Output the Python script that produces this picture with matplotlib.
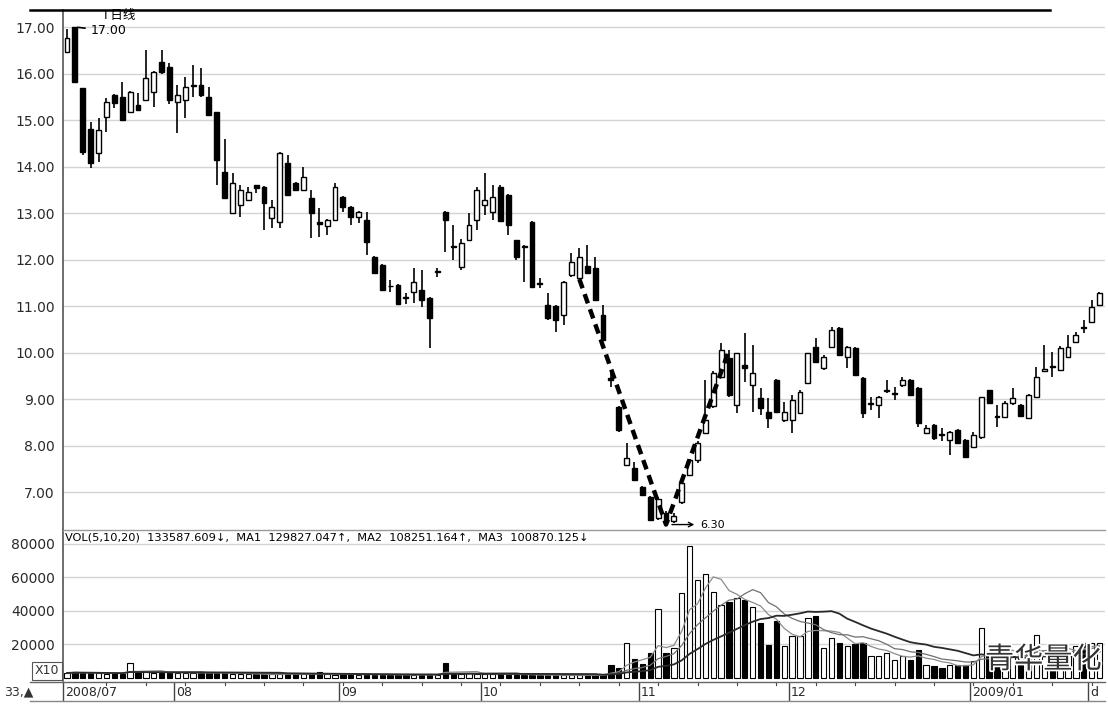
import matplotlib
matplotlib.use('Agg')
import matplotlib.pyplot as plt
import numpy as np
import pandas as pd
from matplotlib.patches import Rectangle
from matplotlib.lines import Line2D
from matplotlib.transforms import blended_transform_factory
import matplotlib.patheffects as pe

# ---------------- data ----------------
opens = [16.46, 17.00, 15.68, 14.80, 14.30, 15.07, 15.54, 15.50, 15.17, 15.32,
         15.43, 15.60, 16.25, 16.14, 15.39, 15.43, 15.73, 15.75, 15.50, 15.17,
         13.88, 13.00, 13.17, 13.28, 13.60, 13.56, 12.89, 12.81, 14.07, 13.65,
         13.50, 13.32, 12.80, 12.72, 12.85, 13.34, 13.13, 12.91, 12.85, 12.05,
         11.88, 11.44, 11.45, 11.20, 11.30, 11.34, 11.17, 11.74, 13.02, 12.28,
         11.84, 12.42, 12.85, 13.17, 13.02, 13.55, 13.39, 12.42, 12.28, 12.81,
         11.50, 11.02, 11.00, 10.81, 11.67, 11.60, 11.85, 11.82, 10.81, 9.45,
         8.83, 7.58, 7.52, 7.10, 6.89, 6.45, 6.55, 6.38, 6.79, 7.37,
         7.69, 8.27, 8.85, 9.47, 9.88, 8.87, 9.74, 9.30, 9.02, 8.72,
         9.41, 8.55, 8.55, 8.70, 9.34, 10.12, 9.67, 10.12, 10.53, 9.90,
         10.10, 9.45, 8.90, 8.87, 9.18, 9.10, 9.30, 9.41, 9.24, 8.27,
         8.44, 8.24, 8.12, 8.33, 8.12, 7.97, 8.18, 9.19, 8.64, 8.61,
         8.91, 8.87, 8.59, 9.04, 9.60, 9.70, 9.62, 9.90, 10.23, 10.54,
         10.66, 11.02]
highs = [16.95, 17.00, 15.68, 14.95, 15.05, 15.47, 15.56, 15.82, 15.62, 15.58,
         16.50, 16.05, 16.50, 16.22, 15.75, 15.93, 16.18, 16.11, 15.71, 15.17,
         14.60, 13.86, 13.60, 13.56, 13.60, 13.58, 13.28, 14.31, 14.25, 13.67,
         13.99, 13.50, 13.10, 12.87, 13.65, 13.36, 13.15, 13.05, 13.02, 12.07,
         11.90, 11.55, 11.47, 11.28, 11.82, 11.77, 11.20, 11.82, 13.04, 12.74,
         12.45, 13.00, 13.56, 13.86, 13.60, 13.60, 13.40, 12.43, 12.32, 12.82,
         11.60, 11.28, 11.02, 11.54, 12.14, 12.25, 12.31, 12.05, 11.02, 9.58,
         8.86, 8.05, 7.65, 7.12, 6.92, 6.90, 6.60, 6.55, 7.22, 7.72,
         8.10, 9.41, 9.60, 10.20, 10.05, 10.00, 10.42, 10.16, 9.24, 9.02,
         9.42, 8.94, 9.09, 9.20, 10.00, 10.31, 9.95, 10.55, 10.55, 10.15,
         10.12, 9.47, 9.04, 9.06, 9.41, 9.26, 9.47, 9.43, 9.25, 8.45,
         8.47, 8.38, 8.32, 8.36, 8.14, 8.30, 9.05, 9.20, 8.87, 8.95,
         9.24, 8.89, 9.10, 9.69, 10.16, 10.01, 10.15, 10.38, 10.45, 10.70,
         11.13, 11.30]
lows = [16.45, 15.80, 14.25, 13.97, 14.10, 14.74, 15.25, 15.00, 15.15, 15.20,
        15.40, 15.28, 16.00, 15.35, 14.72, 15.04, 15.50, 15.50, 15.08, 13.60,
        13.30, 12.98, 12.92, 13.25, 13.42, 12.63, 12.68, 12.68, 13.38, 13.48,
        13.48, 12.46, 12.48, 12.53, 12.83, 13.02, 12.74, 12.78, 12.10, 11.70,
        11.33, 11.30, 11.02, 11.04, 11.06, 10.98, 10.10, 11.62, 12.16, 11.99,
        11.77, 12.40, 12.63, 12.96, 12.85, 12.80, 12.53, 12.00, 11.52, 11.40,
        11.39, 10.70, 10.44, 10.59, 11.62, 11.58, 11.70, 11.10, 10.25, 9.26,
        8.30, 7.56, 7.24, 6.92, 6.38, 6.40, 6.30, 6.33, 6.75, 7.35,
        7.62, 8.25, 8.80, 9.45, 9.05, 8.70, 9.37, 8.72, 8.66, 8.38,
        8.70, 8.50, 8.27, 8.68, 9.32, 9.78, 9.63, 10.10, 9.93, 9.67,
        9.50, 8.59, 8.76, 8.59, 9.13, 8.98, 9.26, 9.07, 8.40, 8.25,
        8.12, 8.10, 7.80, 8.03, 7.73, 7.94, 8.15, 8.90, 8.40, 8.60,
        8.88, 8.62, 8.57, 9.02, 9.58, 9.47, 9.60, 9.88, 10.20, 10.42,
        10.64, 11.00]
closes = [16.76, 15.82, 14.32, 14.08, 14.78, 15.39, 15.37, 15.00, 15.60, 15.22,
          15.90, 16.03, 16.03, 15.43, 15.54, 15.71, 15.74, 15.54, 15.10, 14.14,
          13.32, 13.65, 13.50, 13.45, 13.54, 13.21, 13.13, 14.29, 13.39, 13.50,
          13.78, 13.00, 12.76, 12.85, 13.56, 13.13, 12.91, 13.02, 12.38, 11.71,
          11.34, 11.42, 11.04, 11.18, 11.52, 11.13, 10.74, 11.76, 12.86, 12.26,
          12.35, 12.74, 13.50, 13.28, 13.34, 12.82, 12.74, 12.05, 12.26, 11.41,
          11.48, 10.74, 10.70, 11.52, 11.95, 12.05, 11.72, 11.13, 10.27, 9.40,
          8.33, 7.73, 7.26, 6.94, 6.40, 6.85, 6.36, 6.48, 7.20, 7.69,
          8.05, 8.55, 9.55, 10.05, 9.08, 9.99, 9.66, 9.56, 8.81, 8.59,
          8.72, 8.72, 8.98, 9.15, 9.99, 9.80, 9.90, 10.48, 9.95, 10.12,
          9.52, 8.70, 8.92, 9.04, 9.20, 9.12, 9.40, 9.09, 8.48, 8.38,
          8.16, 8.22, 8.29, 8.05, 7.75, 8.23, 9.04, 8.91, 8.62, 8.91,
          9.02, 8.63, 9.09, 9.47, 9.64, 9.68, 10.10, 10.12, 10.38, 10.52,
          10.98, 11.28]
volumes = [3000, 3500, 3200, 3000, 2800, 2500, 2600, 2500, 9000, 3000,
           3500, 3000, 3200, 3500, 3000, 3200, 2800, 3000, 3300, 3200,
           3000, 2400, 2300, 2200, 2400, 2300, 2100, 2500, 2400, 2200,
           2300, 2400, 3500, 2200, 2000, 2100, 1900, 2000, 2200, 1800,
           2000, 1900, 2100, 1800, 2000, 1900, 2100, 1800, 9000, 2600,
           2400, 2800, 2500, 2200, 2400, 2300, 2000, 1800, 1900, 1700,
           1800, 1600, 1700, 1800, 1600, 1700, 1500, 1600, 1700, 7800,
           6000, 21000, 11300, 8400, 15000, 41000, 15000, 18000, 51000, 79000,
           58500, 62000, 51500, 43500, 45400, 47500, 46600, 42400, 33000, 19700,
           34000, 19000, 25000, 25000, 36000, 37000, 18000, 24000, 21000, 19000,
           20300, 21000, 13000, 13000, 15000, 10700, 13000, 10700, 16700, 8000,
           7000, 6000, 7500, 8000, 8000, 10000, 30000, 14000, 12000, 14000,
           13000, 12000, 15000, 25600, 16000, 14000, 18000, 15000, 19000, 21000,
           21000, 21000]
price_ticks = [7, 8, 9, 10, 11, 12, 13, 14, 15, 16, 17]
vol_ticks = [20000, 40000, 60000, 80000]
month_labels = ['2008/07', '08', '09', '10', '11', '12', '2009/01', 'd']
month_idx = [0, 14, 35, 53, 73, 92, 115, 130]
v_idx = [65, 76, 84]          # candles joined by the dashed "V"
ma_windows = [5, 10, 20]
header = ('VOL(5,10,20)  133587.609\u2193,  MA1  129827.047\u2191,  '
          'MA2  108251.164\u2191,  MA3  100870.125\u2193')

# ---------------- figure ----------------
W, H = 1108, 708
fig = plt.figure(figsize=(W / 100, H / 100), dpi=100)
fig.patch.set_facecolor('white')


def fx(px):
    return px / W


def fy(py):
    return 1 - py / H


ax_p = fig.add_axes([fx(63), fy(530), fx(1105) - fx(63), fy(10) - fy(530)])
ax_v = fig.add_axes([fx(63), fy(681), fx(1105) - fx(63), fy(530) - fy(681)])

n = len(opens)
idx = np.arange(n)
xlim = (-0.51, 131.7)
grid_c = '#d4d4d4'
txt_c = '#2a2a2a'

# ---- price panel ----
bw = 0.62
for i in range(n):
    o, h, l, c = opens[i], highs[i], lows[i], closes[i]
    ax_p.vlines(i, l, h, color='black', lw=1.2, zorder=2)
    up = c >= o
    bottom = min(o, c)
    hgt = max(abs(c - o), 0.02)
    ax_p.add_patch(Rectangle((i - bw / 2, bottom), bw, hgt,
                             facecolor='white' if up else 'black',
                             edgecolor='black', lw=1.0, zorder=3))

# dashed V
vx = [v_idx[0], v_idx[1], v_idx[2]]
vy = [lows[v_idx[0]], lows[v_idx[1]], highs[v_idx[2]]]
ax_p.plot(vx, vy, color='black', lw=3.2, ls=(0, (2.2, 1.4)), zorder=4,
          solid_capstyle='butt', dash_capstyle='butt')

ax_p.set_xlim(*xlim)
ax_p.set_ylim(6.183, 17.366)
ax_p.set_yticks(price_ticks)
ax_p.set_yticklabels([f'{t:.2f}' for t in price_ticks])
ax_p.grid(axis='y', color=grid_c, lw=1.0)
ax_p.set_axisbelow(True)
ax_p.set_xticks([])
ax_p.tick_params(axis='y', length=0, pad=6, labelsize=10, labelcolor=txt_c)
for s in ['top', 'right', 'bottom']:
    ax_p.spines[s].set_visible(False)
ax_p.spines['left'].set_color('#555555')
ax_p.spines['left'].set_linewidth(1.2)

# annotations on price panel
i_hi = int(np.argmax(highs))
ax_p.annotate('17.00', xy=(i_hi, highs[i_hi]), xytext=(i_hi + 2.0, highs[i_hi] - 0.08),
              fontsize=9, color='black', va='center', ha='left',
              arrowprops=dict(arrowstyle='-', color='black', lw=1.2))
i_lo = int(np.argmin(lows))
ax_p.annotate('6.30', xy=(i_lo + 0.4, lows[i_lo]), xytext=(i_lo + 4.3, lows[i_lo]),
              fontsize=8, color='black', va='center', ha='left',
              arrowprops=dict(arrowstyle='<-', color='black', lw=1.0))
fig.text(fx(104), fy(15), 'I 日线', fontsize=9, color='black', va='center', ha='left',
         family=['Noto Sans CJK SC', 'DejaVu Sans'])

# ---- volume panel ----
vcol = ['white' if closes[i] >= opens[i] else 'black' for i in range(n)]
ax_v.bar(idx, volumes, width=0.68, color=vcol, edgecolor='black', lw=0.8, zorder=3)
vs = pd.Series(volumes, dtype=float)
ma_styles = [('#8c8c8c', 0.9), ('#707070', 0.9), ('#2a2a2a', 1.3)]
for w, (col, lw) in zip(ma_windows, ma_styles):
    ax_v.plot(idx, vs.rolling(w, min_periods=1).mean(), color=col, lw=lw, zorder=4)

ax_v.set_xlim(*xlim)
ax_v.set_ylim(-1791, 88358)
ax_v.set_yticks(vol_ticks)
ax_v.set_yticklabels([str(t) for t in vol_ticks])
ax_v.grid(axis='y', color=grid_c, lw=1.0)
ax_v.set_axisbelow(True)
ax_v.set_xticks([])
ax_v.tick_params(axis='y', length=0, pad=6, labelsize=10, labelcolor=txt_c)
ax_v.spines['right'].set_visible(False)
ax_v.spines['top'].set_color('#9a9a9a')
ax_v.spines['top'].set_linewidth(1.0)
ax_v.spines['left'].set_color('#555555')
ax_v.spines['left'].set_linewidth(1.2)
ax_v.spines['bottom'].set_visible(False)

fig.text(fx(65), fy(538), header, fontsize=8.2, color='black', va='center', ha='left',
         family=['DejaVu Sans'])
fig.text(fx(47), fy(671), 'X10', fontsize=9, color='#333333', ha='center', va='center',
         bbox=dict(boxstyle='square,pad=0.2', fc='white', ec='#555555', lw=0.8))

# watermark
fig.text(fx(985), fy(660), '青华量化', fontsize=21, color='#333333', ha='left', va='center',
         family=['Noto Sans CJK SC', 'DejaVu Sans'],
         path_effects=[pe.withStroke(linewidth=2.5, foreground='white')])

# frame lines
fig.add_artist(Line2D([fx(30), fx(1050)], [fy(10), fy(10)], color='black', lw=1.8))
fig.add_artist(Line2D([fx(30), fx(1105)], [fy(682), fy(682)], color='#666666', lw=1.0))
fig.add_artist(Line2D([fx(30), fx(1105)], [fy(701), fy(701)], color='#888888', lw=1.0))

# month labels / dividers
bt = blended_transform_factory(ax_v.transData, fig.transFigure)
for lab, mi in zip(month_labels, month_idx):
    ax_v.add_artist(Line2D([mi - 0.45, mi - 0.45], [fy(683), fy(700)], transform=bt,
                           color='#444444', lw=1.0, clip_on=False))
    ax_v.text(mi - 0.2, fy(692), lab, transform=bt, fontsize=9, color=txt_c,
              ha='left', va='center', clip_on=False)
for k in range(5, n, 5):
    ax_v.add_artist(Line2D([k, k], [fy(682), fy(685)], transform=bt,
                           color='#444444', lw=0.8, clip_on=False))

fig.text(fx(4), fy(692), '33,\u25b2', fontsize=9, color='#333333', ha='left', va='center')

fig.savefig('out.png', dpi=100, facecolor='white')
